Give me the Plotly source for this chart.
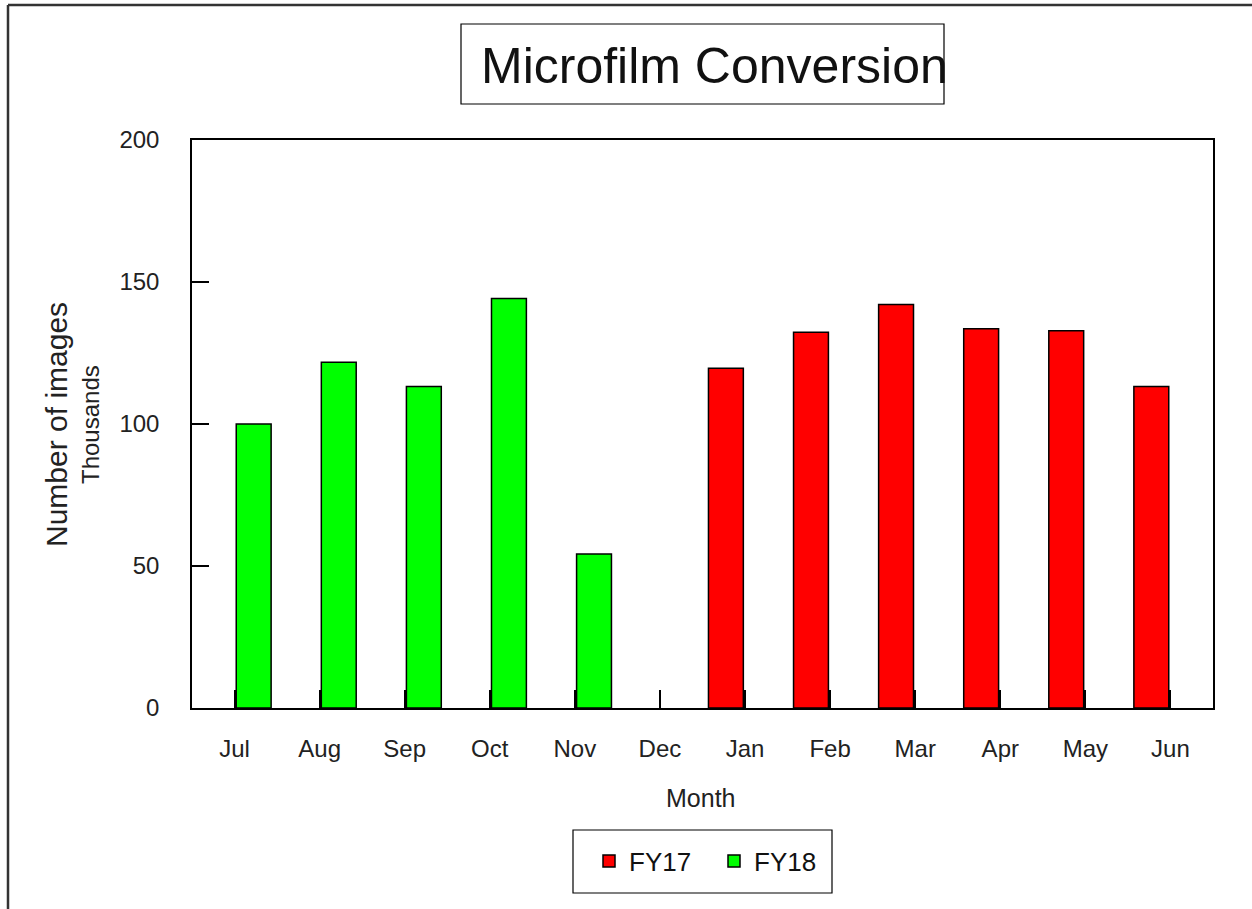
import plotly.graph_objects as go

months = ["Jul", "Aug", "Sep", "Oct", "Nov", "Dec", "Jan", "Feb", "Mar", "Apr", "May", "Jun"]
fy17 = [None, None, None, None, None, None, 119.6, 132.3, 142.1, 133.5, 132.8, 113.2]
fy18 = [100.0, 121.7, 113.2, 144.2, 54.2, None, None, None, None, None, None, None]

FONT = "Liberation Sans, Arial, sans-serif"

fig = go.Figure()
fig.add_trace(go.Bar(
    x=months, y=fy17, name="FY17",
    marker=dict(color="#ff0000", line=dict(color="#000000", width=1.5)),
    width=0.41, offset=-0.43,
))
fig.add_trace(go.Bar(
    x=months, y=fy18, name="FY18",
    marker=dict(color="#00ff00", line=dict(color="#000000", width=1.5)),
    width=0.41, offset=0.02,
))

def px(x):
    return (x - 192) / 1021.0

def py(y):
    return (708 - y) / 568.0

fig.update_layout(
    width=1252, height=909,
    margin=dict(l=192, r=39, t=140, b=201, autoexpand=False),
    paper_bgcolor="white", plot_bgcolor="white",
    font=dict(family=FONT, color="#222222"),
    barmode="overlay",
    showlegend=True,
    legend=dict(
        orientation="h", x=px(714), xanchor="center", y=py(861), yanchor="middle",
        borderwidth=0, bgcolor="rgba(0,0,0,0)",
        font=dict(size=26, family=FONT, color="#111111"),
        entrywidth=80,
    ),
    xaxis=dict(
        type="category", categoryorder="array", categoryarray=months,
        range=[-0.5, 11.5],
        showline=True, linecolor="black", linewidth=1.5, mirror=True,
        ticks="inside", ticklen=18, tickcolor="black", tickwidth=1.5,
        tickfont=dict(size=24, family=FONT, color="#222222"),
        ticklabelstandoff=18,
        showgrid=False, zeroline=False,
    ),
    yaxis=dict(
        range=[0, 200], tickvals=[0, 50, 100, 150, 200],
        showline=True, linecolor="black", linewidth=1.5, mirror=True,
        ticks="inside", ticklen=17, tickcolor="black", tickwidth=1.5,
        tickfont=dict(size=24, family=FONT, color="#222222"),
        ticklabelstandoff=26,
        showgrid=False, zeroline=False,
    ),
    shapes=[
        # outer frame (left and top)
        dict(type="line", xref="paper", yref="paper", x0=px(8), x1=px(8), y0=py(5), y1=py(915),
             line=dict(color="#333333", width=2.5)),
        dict(type="line", xref="paper", yref="paper", x0=px(8), x1=px(1260), y0=py(5), y1=py(5),
             line=dict(color="#333333", width=2.5)),
        # title box
        dict(type="rect", xref="paper", yref="paper", x0=px(461), x1=px(944), y0=py(104), y1=py(24),
             line=dict(color="black", width=1.2), fillcolor="rgba(0,0,0,0)"),
        # legend box
        dict(type="rect", xref="paper", yref="paper", x0=px(573), x1=px(832), y0=py(893), y1=py(830),
             line=dict(color="black", width=1.2), fillcolor="rgba(0,0,0,0)"),
    ],
    annotations=[
        dict(text="Microfilm Conversion", xref="paper", yref="paper", x=px(714), y=py(66),
             xanchor="center", yanchor="middle", showarrow=False,
             font=dict(size=50, family=FONT, color="#111111")),
        dict(text="Month", xref="paper", yref="paper", x=px(700), y=py(798),
             xanchor="center", yanchor="middle", showarrow=False,
             font=dict(size=25, family=FONT, color="#222222")),
        dict(text="Number of images", xref="paper", yref="paper", x=px(56), y=py(425),
             xanchor="center", yanchor="middle", textangle=-90, showarrow=False,
             font=dict(size=30, family=FONT, color="#222222")),
        dict(text="Thousands", xref="paper", yref="paper", x=px(90), y=py(425),
             xanchor="center", yanchor="middle", textangle=-90, showarrow=False,
             font=dict(size=24, family=FONT, color="#222222")),
    ],
)

fig.write_html(
    "out.html",
    config={"displayModeBar": False},
    post_script="document.body.style.margin='0';document.body.style.overflow='hidden';",
)
